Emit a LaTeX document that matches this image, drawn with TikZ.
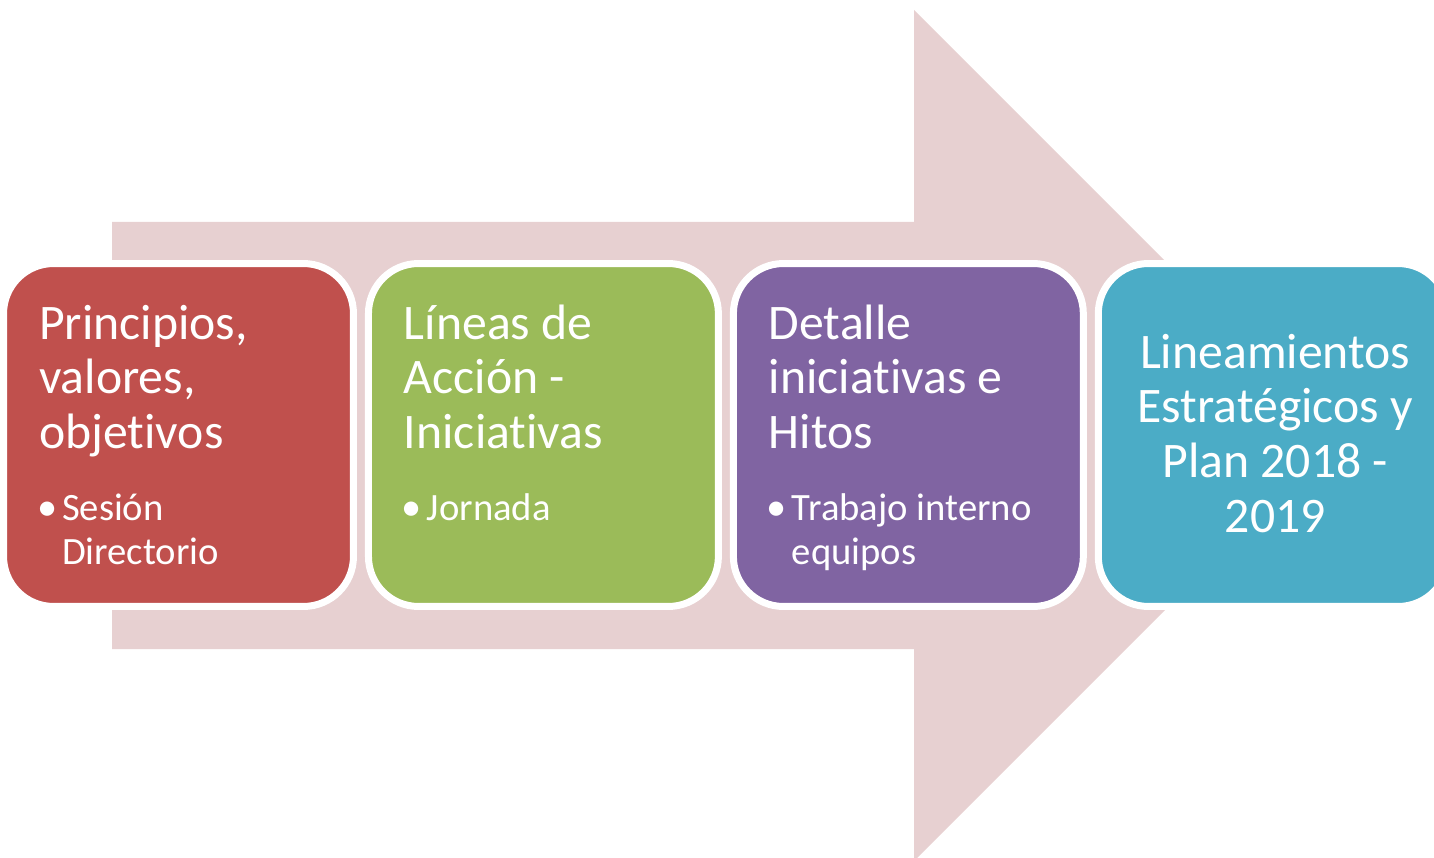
\documentclass[tikz,border=0pt]{standalone}
\usepackage{fontspec}
\setmainfont{Carlito}[Ligatures=NoCommon]
\usetikzlibrary{positioning}

\definecolor{rojo}{HTML}{C0504D}
\definecolor{verde}{HTML}{9BBB59}
\definecolor{morado}{HTML}{8064A2}
\definecolor{celeste}{HTML}{4BACC6}
\definecolor{flecha}{HTML}{E7D0D1}

\newcommand{\titulo}{\fontsize{28.3}{31.2}\selectfont}
\newcommand{\vineta}{\fontsize{22}{25}\selectfont}
\newcommand{\punto}[1]{\par\vspace{15.8pt}{\vineta\hangindent=0.46cm\hangafter=1\noindent\makebox[0.46cm][l]{\hspace{-0.04cm}\fontsize{23}{25}\selectfont\textbullet}#1\par}}

\tikzset{
	etapa/.style={draw=white, line width=0.14cm, rounded corners=1cm, minimum width=7.0cm, minimum height=6.86cm, inner sep=0pt},
	texto/.style={text=white, inner sep=0pt, outer sep=0pt}
}

\begin{document}
\begin{tikzpicture}[x=0.02cm, y=-0.02cm]
	\useasboundingbox (0,0) rectangle (1434,858);

	\fill [flecha](112,222) -- (914,222) -- (914,10) -- (1339.5,435.5) -- (914,861) -- (914,649) -- (112,649) -- cycle;

	\node (b1)[etapa, fill=rojo] at (178.5,435) {};
	\node (b2)[etapa, fill=verde, right=0.16cm of b1] {};
	\node (b3)[etapa, fill=morado, right=0.16cm of b2] {};
	\node (b4)[etapa, fill=celeste, right=0.16cm of b3] {};

	\node (t1)[texto, anchor=base west] at ([shift={(39,79)}]b1.north west) {
		\begin{minipage}[t]{6cm}
			\titulo Principios,\\ valores,\\ objetivos
			\punto{Sesión\\ Directorio}
		\end{minipage}
	};
	\node (t2)[texto, anchor=base west] at ([shift={(39,79)}]b2.north west) {
		\begin{minipage}[t]{6cm}
			\titulo Líneas de\\ Acción -\\ Iniciativas
			\punto{Jornada}
		\end{minipage}
	};
	\node (t3)[texto, anchor=base west] at ([shift={(39,79)}]b3.north west) {
		\begin{minipage}[t]{6cm}
			\titulo Detalle\\ iniciativas e\\ Hitos
			\punto{Trabajo interno\\ equipos}
		\end{minipage}
	};
	\node (t4)[texto, anchor=base] at ([shift={(2,108)}]b4.north) {
		\begin{minipage}[t]{6.8cm}
			\centering\titulo Lineamientos\\ Estratégicos y\\ Plan 2018 -\\ 2019
		\end{minipage}
	};
\end{tikzpicture}
\end{document}
